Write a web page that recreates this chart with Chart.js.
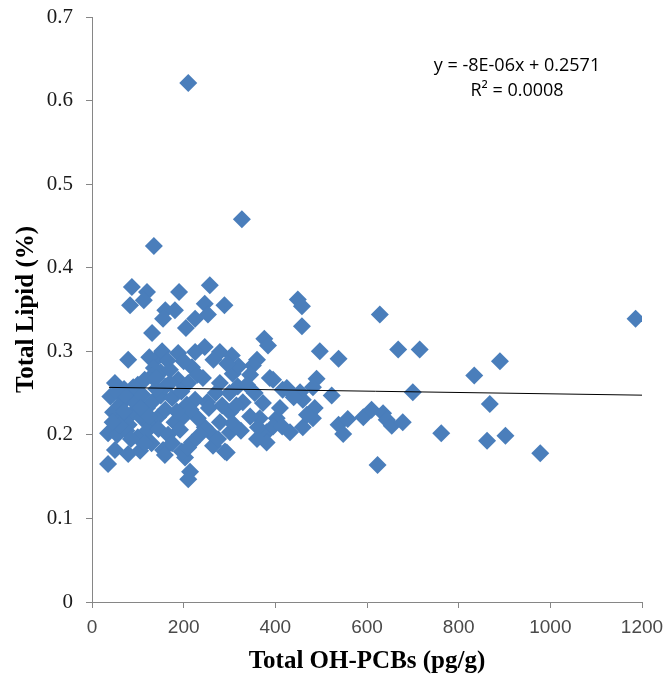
<!DOCTYPE html>
<html>
<head>
<meta charset="utf-8">
<script src="https://cdn.jsdelivr.net/npm/chart.js@4.4.1/dist/chart.umd.min.js"></script>
<style>
  html, body { margin: 0; padding: 0; background: #fff; }
  canvas { display: block; }
</style>
</head>
<body>
<canvas id="lipid-chart" width="668" height="680"></canvas>
<script>
// total OH-PCBs (pg/g) for each sample
const ohPcbs = [
  210, 327, 135, 87, 83, 120, 113, 190, 160, 181,
  155, 257, 246, 289, 253, 225, 205, 131, 449, 458,
  458, 376, 384,
  538, 668, 715, 628, 890, 834, 700, 1186, 868, 762,
  862, 902, 978, 623, 523, 538, 548, 558, 592, 610,
  635, 643, 654, 678, 497, 490, 482, 460, 486, 482,
  460, 469,
  279, 305, 246, 360, 351, 307, 345, 388, 395, 279,
  242, 416, 425, 454, 251, 329, 373, 301, 279, 366,
  403, 257, 301, 381, 432, 264, 294, 381, 362, 307,
  246, 290, 318, 338, 300, 270, 355, 284, 315, 345,
  440, 410, 395, 325, 275, 360, 320, 295, 265, 415,
  79, 142, 153, 188, 225, 218, 165, 125, 200, 135,
  50, 100, 130, 150, 188, 170, 70, 115, 210, 230,
  40, 55, 83, 100, 131, 150, 175, 207, 120, 65,
  195, 225, 160, 140, 90,
  46, 65, 90, 109, 144, 160, 231, 180, 125, 80,
  200, 215,
  35, 55, 75, 100, 120, 145, 166, 192, 218, 235,
  130,
  50, 79, 105, 155, 159, 175, 203, 196, 210,
  35, 214, 210,
  60, 75, 95, 110, 70, 105, 125, 60, 85, 115,
  45, 140, 170, 255, 185
];

// total lipid (%) for the same samples
const lipid = [
  0.621, 0.458, 0.426, 0.377, 0.355, 0.371, 0.361, 0.371, 0.349, 0.349,
  0.339, 0.379, 0.357, 0.355, 0.344, 0.339, 0.328, 0.322, 0.362, 0.354,
  0.330, 0.315, 0.307,
  0.291, 0.302, 0.302, 0.344, 0.288, 0.271, 0.251, 0.339, 0.237, 0.202,
  0.193, 0.199, 0.178, 0.164, 0.247, 0.212, 0.201, 0.219, 0.221, 0.230,
  0.226, 0.218, 0.211, 0.215, 0.300, 0.267, 0.257, 0.242, 0.232, 0.220,
  0.209, 0.224,
  0.299, 0.295, 0.305, 0.290, 0.283, 0.273, 0.272, 0.268, 0.266, 0.262,
  0.268, 0.254, 0.256, 0.251, 0.239, 0.239, 0.238, 0.227, 0.215, 0.220,
  0.220, 0.203, 0.203, 0.203, 0.203, 0.187, 0.179, 0.191, 0.209, 0.214,
  0.209, 0.180, 0.258, 0.260, 0.250, 0.250, 0.250, 0.235, 0.235, 0.222,
  0.245, 0.232, 0.210, 0.205, 0.195, 0.195, 0.282, 0.285, 0.290, 0.210,
  0.290, 0.292, 0.300, 0.298, 0.299, 0.281, 0.289, 0.293, 0.288, 0.280,
  0.262, 0.260, 0.270, 0.275, 0.266, 0.278, 0.255, 0.266, 0.262, 0.272,
  0.246, 0.252, 0.244, 0.250, 0.239, 0.247, 0.244, 0.236, 0.232, 0.238,
  0.252, 0.242, 0.258, 0.255, 0.257,
  0.227, 0.220, 0.227, 0.220, 0.221, 0.230, 0.220, 0.215, 0.212, 0.212,
  0.222, 0.230,
  0.202, 0.200, 0.205, 0.197, 0.205, 0.207, 0.200, 0.206, 0.191, 0.200,
  0.190,
  0.182, 0.177, 0.181, 0.182, 0.176, 0.190, 0.173, 0.180, 0.185,
  0.165, 0.156, 0.147,
  0.235, 0.245, 0.238, 0.248, 0.228, 0.232, 0.222, 0.212, 0.195, 0.190,
  0.215, 0.268, 0.262, 0.232, 0.228
];

// linear fit reported on the chart
const slope = -8e-6;
const intercept = 0.2571;
const fitRange = [37, 1200];
const rSquared = '0.0008';

const xTicks = [0, 200, 400, 600, 800, 1000, 1200];
const yTicks = [0, 0.1, 0.2, 0.3, 0.4, 0.5, 0.6, 0.7];

const points = ohPcbs.map((x, i) => ({ x: x, y: lipid[i] }));
const fitLine = fitRange.map((x) => ({ x: x, y: slope * x + intercept }));

const AXIS_GREY = '#868686';

// axis titles and the fit equation are painted straight onto the canvas
const annotations = {
  id: 'annotations',
  afterDraw(chart) {
    const ctx = chart.ctx;
    const area = chart.chartArea;
    const midX = (area.left + area.right) / 2;
    const midY = (area.top + area.bottom) / 2;
    ctx.save();
    ctx.fillStyle = '#000';
    ctx.textAlign = 'center';
    ctx.textBaseline = 'alphabetic';

    ctx.font = 'bold 25px "Liberation Serif"';
    ctx.fillText('Total OH-PCBs (pg/g)', midX, 668);

    ctx.save();
    ctx.translate(33, midY);
    ctx.rotate(-Math.PI / 2);
    ctx.fillText('Total Lipid (%)', 0, 0);
    ctx.restore();

    ctx.font = '18px "Open Sans"';
    ctx.fillText('y = -8E-06x + 0.2571', 517, 71);
    ctx.fillText('R\u00b2 = ' + rSquared, 517, 96);
    ctx.restore();
  },
};

new Chart(document.getElementById('lipid-chart'), {
  type: 'scatter',
  data: {
    datasets: [
      {
        label: 'Linear fit',
        type: 'line',
        data: fitLine,
        borderColor: '#000',
        borderWidth: 1,
        pointRadius: 0,
        fill: false,
        order: 0,
      },
      {
        label: 'Total Lipid',
        data: points,
        pointStyle: 'rectRot',
        pointRadius: 9,
        backgroundColor: '#4a7ebb',
        borderColor: '#4a7ebb',
        borderWidth: 0,
        order: 1,
      },
    ],
  },
  options: {
    responsive: false,
    animation: false,
    events: [],
    layout: { padding: { top: 17, right: 26, left: 0, bottom: 0 } },
    plugins: {
      legend: { display: false },
      tooltip: { enabled: false },
    },
    scales: {
      x: {
        type: 'linear',
        min: 0,
        max: 1200,
        afterBuildTicks: (scale) => {
          scale.ticks = xTicks.map((v) => ({ value: v }));
        },
        ticks: {
          font: { family: 'Liberation Sans', size: 19 },
          color: '#4a4a4a',
          padding: 8,
          maxRotation: 0,
          callback: (v) => String(v),
        },
        grid: { drawOnChartArea: false, tickLength: 6, color: AXIS_GREY },
        border: { color: AXIS_GREY },
        afterFit: (scale) => {
          scale.height = 78;
          scale.paddingLeft = 0;
          scale.paddingRight = 0;
        },
      },
      y: {
        type: 'linear',
        min: 0,
        max: 0.7,
        afterBuildTicks: (scale) => {
          scale.ticks = yTicks.map((v) => ({ value: v }));
        },
        ticks: {
          font: { family: 'Liberation Serif', size: 21 },
          color: '#1a1a1a',
          padding: 13,
          callback: (v) => String(+v.toFixed(1)),
        },
        grid: { drawOnChartArea: false, tickLength: 6, color: AXIS_GREY },
        border: { color: AXIS_GREY },
        afterFit: (scale) => {
          scale.width = 92;
          scale.paddingTop = 0;
          scale.paddingBottom = 0;
        },
      },
    },
  },
  plugins: [annotations],
});
</script>
</body>
</html>
